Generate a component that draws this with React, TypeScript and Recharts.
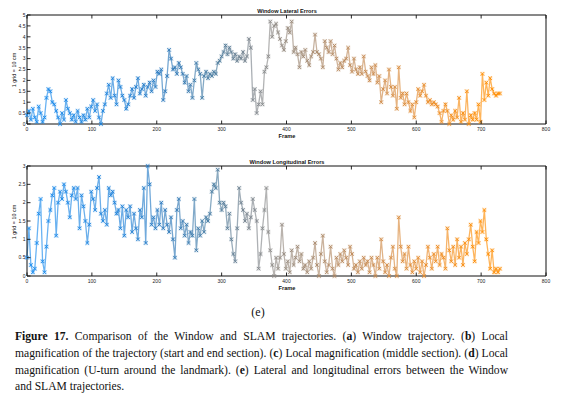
import React from 'react';
import { LineChart, Line, XAxis, YAxis } from 'recharts';

const FRAME_STEP = 3;

const lateralErrors = [
  0.4, 0.6, 0.2, 0.7, 0.3, 0.1, 0.8, 0.5, 0.1, 0.3,
  1.2, 1.6, 1.5, 1.0, 0.9, 0.6, 0.3, 0.0, 0.5, 0.2,
  1.1, 0.7, 0.5, 0.2, 0.4, 0.1, 0.6, 0.3, 0.1, 0.4,
  0.2, 0.7, 0.3, 0.8, 1.1, 0.6, 0.9, 0.3, 0.0, 0.6,
  0.9, 1.4, 1.8, 1.2, 2.1, 1.3, 0.9, 2.0, 1.7, 1.3,
  1.1, 0.7, 0.9, 1.3, 1.6, 1.2, 1.7, 2.1, 1.4, 1.6,
  1.8, 1.3, 1.7, 1.9, 1.5, 2.0, 1.7, 2.4, 2.3, 2.5,
  1.1, 1.5, 2.2, 3.4, 3.0, 2.5, 2.6, 2.3, 2.8, 2.6,
  2.3, 1.9, 2.2, 1.5, 1.8, 1.2, 2.0, 2.8, 2.5, 2.3,
  1.2, 2.2, 2.4, 2.1, 2.3, 2.2, 2.4, 2.3, 2.8, 2.9,
  3.1, 3.3, 3.6, 3.2, 3.5, 3.3, 3.0, 3.2, 2.9, 3.1,
  3.0, 3.3, 2.9, 3.1, 3.9, 3.5, 1.1, 1.6, 0.5, 0.9,
  1.5, 0.9, 2.4, 2.6, 3.1, 4.7, 4.0, 4.5, 4.6, 4.2,
  3.9, 3.6, 3.4, 3.8, 4.4, 4.2, 4.7, 3.3, 3.5, 3.2,
  2.6, 3.3, 3.1, 3.4, 2.9, 2.7, 3.1, 3.3, 4.1, 3.3,
  3.2, 3.0, 2.6, 3.8, 3.5, 3.3, 3.8, 3.2, 3.6, 3.0,
  2.5, 2.8, 2.6, 2.9, 3.0, 3.5, 2.7, 2.4, 3.0, 2.5,
  2.3, 2.6, 2.3, 3.1, 2.4, 2.2, 2.0, 2.6, 2.3, 2.7,
  1.9, 2.2, 1.0, 1.6, 2.0, 1.4, 2.5, 1.7, 1.3, 1.7,
  0.7, 2.6, 1.2, 1.4, 0.9, 1.4, 1.0, 0.6, 0.9, 0.3,
  1.0, 1.6, 1.3, 1.5, 1.8, 1.3, 1.0, 1.1, 0.9, 1.0,
  0.9, 0.8, 0.5, 0.1, 0.6, 0.9, 0.6, 0.0, 0.4, 0.2,
  0.6, 0.3, 1.2, 0.1, 0.5, 0.2, 1.5, 0.0, 0.4, 0.2,
  0.5, 0.2, 0.9, 0.1, 2.3, 1.1, 1.9, 1.3, 2.1, 1.6,
  1.4, 1.3, 1.4, 1.4,
];

const longitudinalErrors = [
  0.5, 1.3, 0.3, 0.1, 0.2, 0.9, 1.7, 2.1, 0.4, 0.1,
  0.8, 1.5, 1.8, 2.2, 2.4, 1.1, 2.0, 2.3, 2.1, 2.5,
  2.3, 2.0, 1.6, 2.2, 2.4, 2.1, 2.4, 1.3, 2.2, 1.9,
  1.5, 0.9, 1.4, 2.3, 2.1, 1.8, 2.4, 2.7, 1.7, 1.5,
  1.8, 1.4, 2.4, 2.2, 2.3, 2.0, 1.7, 1.8, 1.3, 1.9,
  1.1, 1.8, 1.6, 1.9, 1.2, 1.7, 1.3, 1.0, 1.8, 1.6,
  2.4, 0.9, 3.0, 2.5, 1.4, 1.6, 1.3, 1.8, 1.4, 2.0,
  1.3, 1.8, 1.4, 1.2, 1.6, 1.0, 0.5, 1.8, 2.1, 1.3,
  1.5, 1.1, 1.4, 0.9, 1.2, 1.1, 2.1, 0.7, 1.3, 1.1,
  1.5, 1.2, 1.6, 1.5, 1.7, 2.3, 2.5, 2.4, 2.9, 2.0,
  1.8, 2.0, 1.9, 1.3, 1.7, 1.0, 0.6, 0.4, 1.3, 2.4,
  2.0, 1.8, 1.5, 1.7, 1.3, 1.6, 2.1, 1.8, 1.5, 0.2,
  0.6, 1.3, 1.8, 2.4, 1.2, 0.7, 0.3, 0.0, 0.5, 0.2,
  0.5, 1.4, 0.6, 0.2, 0.4, 0.1, 0.7, 0.3, 0.5, 0.8,
  0.4, 0.6, 0.2, 0.3, 0.1, 0.4, 0.2, 0.5, 0.9, 0.3,
  0.0, 0.6, 1.1, 0.4, 0.1, 0.3, 0.8, 0.2, 0.0, 0.5,
  0.3, 0.6, 0.4, 0.7, 0.5, 0.3, 0.8, 0.6, 0.2, 0.3,
  0.1, 0.4, 0.2, 0.5, 0.3, 0.4, 0.1, 0.5, 0.3, 0.0,
  0.5, 0.2, 1.0, 0.4, 0.1, 0.3, 0.0, 0.5, 0.8, 0.2,
  0.0, 1.6, 0.8, 0.4, 0.6, 0.2, 0.8, 0.3, 0.1, 0.4,
  0.2, 0.5, 0.1, 0.4, 0.0, 0.3, 0.8, 0.5, 0.2, 0.6,
  0.4, 0.8, 0.3, 0.6, 0.5, 0.2, 1.3, 0.7, 0.4, 0.8,
  0.3, 1.0, 0.5, 0.8, 0.3, 0.9, 0.6, 1.0, 1.4, 0.8,
  0.4, 1.2, 0.9, 1.5, 1.2, 1.8, 1.0, 0.6, 0.2, 0.7,
  0.1, 0.2, 0.1, 0.2,
];

const frameTicks = [0, 100, 200, 300, 400, 500, 600, 700, 800];
const lateralTicks = [0, 0.5, 1, 1.5, 2, 2.5, 3, 3.5, 4, 4.5, 5];
const longitudinalTicks = [0, 0.5, 1, 1.5, 2, 2.5, 3];

const colorStops: [number, number[]][] = [
  [0, [25, 140, 240]],
  [150, [30, 128, 215]],
  [220, [45, 120, 185]],
  [290, [75, 125, 160]],
  [340, [120, 130, 140]],
  [370, [140, 140, 140]],
  [410, [155, 138, 122]],
  [470, [180, 138, 100]],
  [540, [205, 138, 75]],
  [620, [235, 140, 40]],
  [700, [255, 140, 0]],
  [730, [255, 140, 0]],
];

function colorAt(frame: number): string {
  for (let i = 0; i < colorStops.length - 1; i++) {
    const [f0, c0] = colorStops[i];
    const [f1, c1] = colorStops[i + 1];
    if (frame >= f0 && frame <= f1) {
      const t = (frame - f0) / (f1 - f0 || 1);
      const c = c0.map((v, k) => Math.round(v + (c1[k] - v) * t));
      return `rgb(${c[0]},${c[1]},${c[2]})`;
    }
  }
  const c = colorStops[colorStops.length - 1][1];
  return `rgb(${c[0]},${c[1]},${c[2]})`;
}

const lateralData = lateralErrors.map((v, i) => ({ frame: i * FRAME_STEP, value: v }));
const longitudinalData = longitudinalErrors.map((v, i) => ({ frame: i * FRAME_STEP, value: v }));
const LAST_FRAME = (lateralErrors.length - 1) * FRAME_STEP;

const AXIS_FONT = 'Liberation Sans, Arial, sans-serif';

const BottomTick = (props: any) => {
  const { x, y, payload } = props;
  return (
    <g>
      <line x1={x} x2={x} y1={y} y2={y - 3.5} stroke="#111" strokeWidth={0.9} />
      <text x={x} y={y + 6.5} textAnchor="middle" fontSize={5} fontFamily={AXIS_FONT} fill="#222">
        {payload.value}
      </text>
    </g>
  );
};

const TopTick = (props: any) => {
  const { x, y } = props;
  return <line x1={x} x2={x} y1={y} y2={y + 3.5} stroke="#111" strokeWidth={0.9} />;
};

const LeftTick = (props: any) => {
  const { x, y, payload } = props;
  return (
    <g>
      <line x1={x} x2={x + 3.5} y1={y} y2={y} stroke="#111" strokeWidth={0.9} />
      <text x={x - 1.5} y={y + 1.8} textAnchor="end" fontSize={5} fontFamily={AXIS_FONT} fill="#222">
        {payload.value}
      </text>
    </g>
  );
};

const RightTick = (props: any) => {
  const { x, y } = props;
  return <line x1={x} x2={x - 3.5} y1={y} y2={y} stroke="#111" strokeWidth={0.9} />;
};

const renderMarker = (p: any) => {
  const { cx, cy, payload, index } = p;
  if (cx == null || cy == null) return <g key={'m' + index} />;
  const c = colorAt(payload.frame);
  const s = 1.7;
  return (
    <g key={'m' + index}>
      <rect x={cx - 2.2} y={cy - 2.2} width={4.4} height={4.4} fill={c} fillOpacity={0.2} />
      <path
        d={`M${cx - s},${cy - s}L${cx + s},${cy + s}M${cx - s},${cy + s}L${cx + s},${cy - s}`}
        stroke={c}
        strokeWidth={0.9}
        fill="none"
      />
    </g>
  );
};

const gradientStops = colorStops.map(([f, c], i) => (
  <stop key={i} offset={Math.min(1, f / LAST_FRAME)} stopColor={`rgb(${c[0]},${c[1]},${c[2]})`} />
));

type PanelProps = {
  data: { frame: number; value: number }[];
  yTicks: number[];
  yMax: number;
  gradId: string;
  topH: number;
  bottomH: number;
};

const Panel = ({ data, yTicks, yMax, gradId, topH, bottomH }: PanelProps) => (
  <LineChart width={565} height={140} data={data} margin={{ top: 0, right: 0, bottom: 0, left: 0 }}>
    <XAxis
      dataKey="frame"
      type="number"
      domain={[0, 800]}
      ticks={frameTicks}
      tickSize={0}
      tickMargin={0}
      tick={<BottomTick />}
      height={bottomH}
      axisLine={{ stroke: '#111', strokeWidth: 1 }}
      interval={0}
    />
    <XAxis
      xAxisId="top"
      orientation="top"
      dataKey="frame"
      type="number"
      domain={[0, 800]}
      ticks={frameTicks}
      tickSize={0}
      tickMargin={0}
      tick={<TopTick />}
      height={topH}
      axisLine={{ stroke: '#111', strokeWidth: 1 }}
      interval={0}
    />
    <YAxis
      type="number"
      domain={[0, yMax]}
      ticks={yTicks}
      tickSize={0}
      tickMargin={0}
      tick={<LeftTick />}
      width={27}
      axisLine={{ stroke: '#111', strokeWidth: 1 }}
      interval={0}
    />
    <YAxis
      yAxisId="right"
      orientation="right"
      type="number"
      domain={[0, yMax]}
      ticks={yTicks}
      tickSize={0}
      tickMargin={0}
      tick={<RightTick />}
      width={19}
      axisLine={{ stroke: '#111', strokeWidth: 1 }}
      interval={0}
    />
    <Line
      type="linear"
      dataKey="value"
      stroke={`url(#${gradId})`}
      strokeOpacity={0.65}
      strokeWidth={1.3}
      dot={renderMarker}
      activeDot={false}
      isAnimationActive={false}
    />
  </LineChart>
);

const titleStyle: React.CSSProperties = {
  position: 'absolute',
  left: 0,
  width: 574,
  textAlign: 'center',
  fontSize: 5.6,
  fontWeight: 'bold',
  fontFamily: AXIS_FONT,
  lineHeight: '6px',
  color: '#111',
};

const yLabelStyle = (cy: number): React.CSSProperties => ({
  position: 'absolute',
  left: 14 - 40,
  top: cy - 3,
  width: 80,
  textAlign: 'center',
  fontSize: 5.4,
  fontFamily: AXIS_FONT,
  lineHeight: '6px',
  transform: 'rotate(-90deg)',
  color: '#111',
});

const captionLine: React.CSSProperties = {
  textAlign: 'justify',
  textAlignLast: 'justify',
  whiteSpace: 'normal',
  height: 16.8,
  lineHeight: '16.8px',
};

export default function App() {
  return (
    <div style={{ position: 'absolute', left: 0, top: 0, width: 565, height: 397, background: '#fff', overflow: 'hidden' }}>
      <svg width={0} height={0} style={{ position: 'absolute' }}>
        <defs>
          <linearGradient id="latGrad" x1="0" y1="0" x2="1" y2="0">{gradientStops}</linearGradient>
          <linearGradient id="lonGrad" x1="0" y1="0" x2="1" y2="0">{gradientStops}</linearGradient>
        </defs>
      </svg>

      <div style={{ position: 'absolute', left: 0, top: 0 }}>
        <Panel data={lateralData} yTicks={lateralTicks} yMax={5} gradId="latGrad" topH={15} bottomH={16} />
      </div>
      <div style={{ ...titleStyle, top: 8 }}>Window Lateral Errors</div>
      <div style={{ ...titleStyle, top: 133 }}>Frame</div>
      <div style={yLabelStyle(70)}>1 grid = 10 cm</div>

      <div style={{ position: 'absolute', left: 0, top: 150 }}>
        <Panel data={longitudinalData} yTicks={longitudinalTicks} yMax={3} gradId="lonGrad" topH={16} bottomH={14} />
      </div>
      <div style={{ ...titleStyle, top: 159 }}>Window Longitudinal Errors</div>
      <div style={{ ...titleStyle, top: 285 }}>Frame</div>
      <div style={yLabelStyle(222)}>1 grid = 10 cm</div>

      <div
        style={{
          position: 'absolute',
          left: 0,
          width: 516,
          top: 304,
          textAlign: 'center',
          fontFamily: 'Liberation Serif, serif',
          fontSize: 12,
          lineHeight: '16px',
          color: '#111',
        }}
      >
        (e)
      </div>

      <div
        style={{
          position: 'absolute',
          left: 15,
          width: 493,
          top: 329,
          fontFamily: 'Liberation Serif, serif',
          fontSize: 11.6,
          color: '#111',
        }}
      >
        <div style={captionLine}>
          <b>Figure 17.</b> Comparison of the Window and SLAM trajectories. (<b>a</b>) Window trajectory. (<b>b</b>) Local
        </div>
        <div style={captionLine}>
          magnification of the trajectory (start and end section). (<b>c</b>) Local magnification (middle section). (<b>d</b>) Local
        </div>
        <div style={captionLine}>
          magnification (U-turn around the landmark). (<b>e</b>) Lateral and longitudinal errors between the Window
        </div>
        <div style={{ ...captionLine, textAlignLast: 'left' }}>and SLAM trajectories.</div>
      </div>
    </div>
  );
}
